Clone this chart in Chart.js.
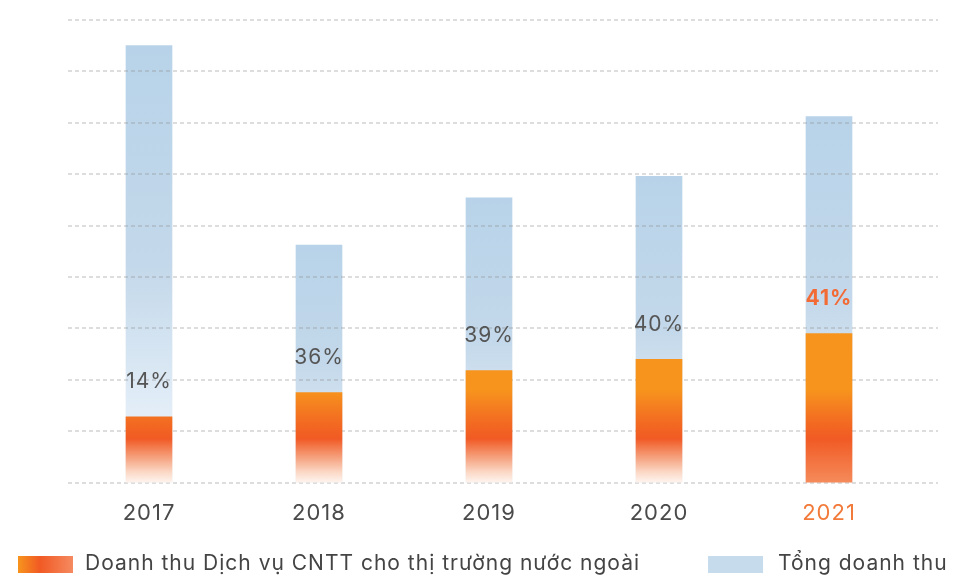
<!DOCTYPE html>
<html lang="vi">
<head>
<meta charset="utf-8">
<script src="https://cdn.jsdelivr.net/npm/chart.js@4.4.1/dist/chart.umd.min.js"></script>
<style>
  html, body { margin: 0; padding: 0; background: #fff; }
  #wrap { width: 966px; height: 578px; }
</style>
</head>
<body>
<div id="wrap"><canvas id="doanhThu" width="966" height="578"></canvas></div>
<script>
// số liệu (tỷ đồng)
const years = ['2017', '2018', '2019', '2020', '2021'];
const overseasRevenue = [6400, 8750, 10900, 12000, 14500];
const totalRevenue = [42500, 23100, 27700, 29800, 35600];
const shareLabels = ['14%', '36%', '39%', '40%', '41%'];
const seriesNames = ['Doanh thu Dịch vụ CNTT cho thị trường nước ngoài', 'Tổng doanh thu'];
const yMax = 45000;
const yStep = 5000;

const FONT = 'Inter, "Noto Sans", sans-serif';
const highlight = years.length - 1; // cột 2021 tô nổi bật

// cam -> đỏ -> nhạt dần ở chân cột
function orangeFill(context) {
    const chart = context.chart;
    const area = chart.chartArea;
    if (!area) return '#f15a24';
    const g = chart.ctx.createLinearGradient(0, area.top, 0, area.bottom);
    g.addColorStop(0, '#f7941d');
    g.addColorStop(0.8, '#f7941d');
    g.addColorStop(0.86, '#f37021');
    g.addColorStop(0.905, '#f15a24');
    if (context.dataIndex === highlight) {
        g.addColorStop(1, '#f58b5b');
    } else {
        g.addColorStop(0.945, '#f5a07c');
        g.addColorStop(0.978, '#fbd9c7');
        g.addColorStop(1, '#fef4ef');
    }
    return g;
}

// xanh nhạt, sáng dần xuống dưới (theo từng cột)
function blueFill(context) {
    const chart = context.chart;
    if (!chart.chartArea || context.raw == null) return '#c5d9ea';
    const y = chart.scales.y;
    const top = y.getPixelForValue(context.raw);
    const base = y.getPixelForValue(0);
    const g = chart.ctx.createLinearGradient(0, top, 0, base);
    g.addColorStop(0, '#b8d3e9');
    g.addColorStop(0.5, '#c3d8ea');
    g.addColorStop(0.8, '#dfebf6');
    g.addColorStop(1, '#eef5fb');
    return g;
}

// giãn chữ nhẹ cho giống font gốc
const spacing = {
    id: 'spacing',
    beforeDraw(chart) {
        chart.ctx.letterSpacing = '1px';
    }
};

// lưới nét đứt: vẽ sau cột xanh, trước cột cam
const dashedGrid = {
    id: 'dashedGrid',
    afterDatasetDraw(chart, args) {
        if (args.index !== 1) return;
        const y = chart.scales.y;
        const area = chart.chartArea;
        const ctx = chart.ctx;
        ctx.save();
        ctx.strokeStyle = 'rgba(140, 140, 140, 0.4)';
        ctx.lineWidth = 1.5;
        ctx.setLineDash([4, 3]);
        for (let v = 0; v <= yMax; v += yStep) {
            const py = Math.round(y.getPixelForValue(v));
            ctx.beginPath();
            ctx.moveTo(area.left + 4, py);
            ctx.lineTo(area.right + 24, py);
            ctx.stroke();
        }
        ctx.restore();
    }
};

const shareText = {
    id: 'shareText',
    afterDatasetsDraw(chart) {
        const meta = chart.getDatasetMeta(0);
        const ctx = chart.ctx;
        ctx.save();
        ctx.textAlign = 'center';
        ctx.textBaseline = 'middle';
        meta.data.forEach((bar, i) => {
            const hl = i === highlight;
            ctx.font = (hl ? '700 ' : '400 ') + '21px ' + FONT;
            ctx.fillStyle = hl ? '#f26b35' : '#555555';
            ctx.fillText(shareLabels[i], bar.x, bar.y - 35);
        });
        ctx.restore();
    }
};

const bottomLegend = {
    id: 'bottomLegend',
    afterDraw(chart) {
        const ctx = chart.ctx;
        const cy = 564;
        ctx.save();
        ctx.font = '400 21px ' + FONT;
        ctx.letterSpacing = '1px';
        ctx.textBaseline = 'middle';
        let x = 18;
        seriesNames.forEach((name, i) => {
            if (i === 0) {
                const g = ctx.createLinearGradient(x, 0, x + 55, 0);
                g.addColorStop(0, '#f7941d');
                g.addColorStop(0.4, '#f15a24');
                g.addColorStop(1, '#f58a60');
                ctx.fillStyle = g;
            } else {
                ctx.fillStyle = '#c6dbec';
            }
            ctx.fillRect(x, cy - 8, 55, 17);
            x += 55 + (i === 0 ? 12 : 15);
            ctx.fillStyle = '#444444';
            ctx.fillText(name, x, cy);
            x += ctx.measureText(name).width + 68;
        });
        ctx.restore();
    }
};

new Chart(document.getElementById('doanhThu'), {
    type: 'bar',
    data: {
        labels: years,
        datasets: [
            {
                label: seriesNames[0],
                data: overseasRevenue,
                backgroundColor: orangeFill,
                grouped: false,
                barThickness: 46
            },
            {
                label: seriesNames[1],
                data: totalRevenue,
                backgroundColor: blueFill,
                grouped: false,
                barThickness: 46
            }
        ]
    },
    options: {
        responsive: false,
        animation: false,
        layout: { padding: { left: 64, right: 52, top: 20, bottom: 33 } },
        plugins: {
            legend: { display: false },
            tooltip: { enabled: false }
        },
        scales: {
            x: {
                grid: { display: false, drawTicks: false },
                border: { display: false },
                ticks: {
                    padding: 18,
                    color: c => c.index === highlight ? '#f27a3a' : '#4a4a4a',
                    font: { family: FONT, size: 22 }
                }
            },
            y: {
                display: false,
                min: 0,
                max: yMax
            }
        }
    },
    plugins: [spacing, dashedGrid, shareText, bottomLegend]
});
</script>
</body>
</html>
